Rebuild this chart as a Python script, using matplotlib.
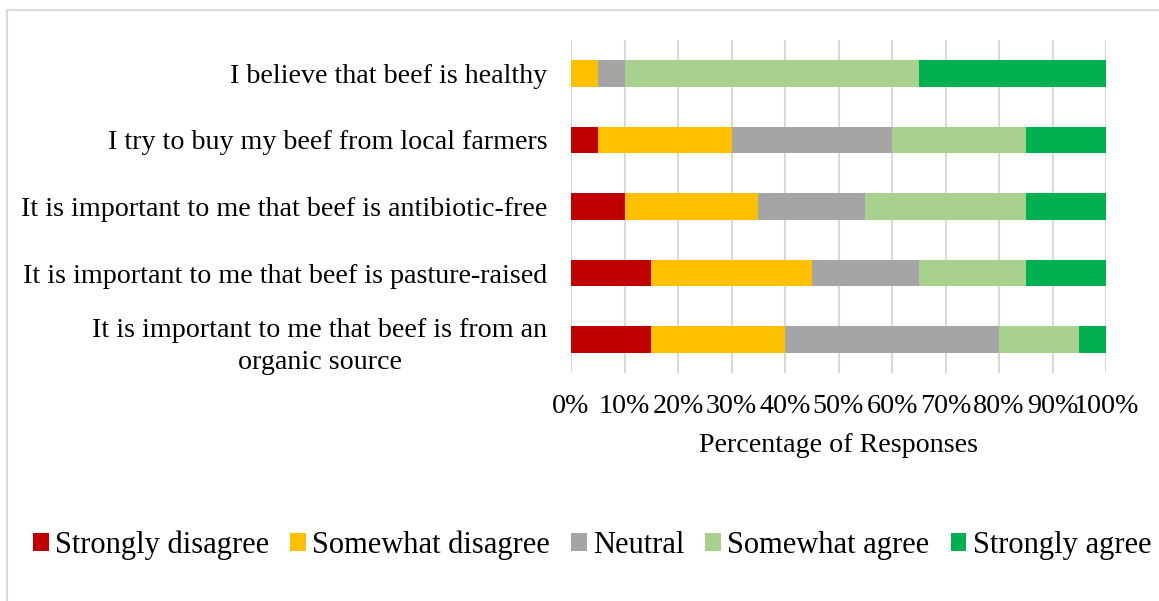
import matplotlib
matplotlib.use("Agg")
import matplotlib.pyplot as plt
from matplotlib.patches import Rectangle
from matplotlib.ticker import FuncFormatter

plt.rcParams['font.family'] = ['Liberation Serif', 'DejaVu Serif']

# Statements (top to bottom as displayed)
statements = [
    "I believe that beef is healthy",
    "I try to buy my beef from local farmers",
    "It is important to me that beef is antibiotic-free",
    "It is important to me that beef is pasture-raised",
    "It is important to me that beef is from an\norganic source",
]

responses = ["Strongly disagree", "Somewhat disagree", "Neutral",
             "Somewhat agree", "Strongly agree"]

strongly_disagree = [0, 5, 10, 15, 15]
somewhat_disagree = [5, 25, 25, 30, 25]
neutral = [5, 30, 20, 20, 40]
somewhat_agree = [55, 25, 30, 20, 15]
strongly_agree = [35, 15, 15, 15, 5]

colors = ["#C00000", "#FFC000", "#A5A5A5", "#A9D18E", "#00B050"]

series = [strongly_disagree, somewhat_disagree, neutral, somewhat_agree, strongly_agree]

FS = 20.2
LEG_FS = 22
W, H = 1159, 601
fig = plt.figure(figsize=(W / 100, H / 100), dpi=100)
ax = fig.add_axes([571 / W, 1 - 373 / H, (1106 - 571) / W, (373 - 40) / H])

ypos = list(range(len(statements)))
left = [0] * len(statements)
for vals, col, name in zip(series, colors, responses):
    ax.barh(ypos, vals, left=left, height=0.4, color=col, label=name, zorder=3)
    left = [a + b for a, b in zip(left, vals)]

ax.set_ylim(len(statements) - 0.5, -0.5)
ax.set_xlim(0, 100)
ax.set_xticks(range(0, 101, 10))
ax.xaxis.set_major_formatter(FuncFormatter(lambda v, p: f"{int(v)}%"))
ax.set_yticks(ypos)
ax.set_yticklabels(statements, multialignment='center', linespacing=1.4)
ax.tick_params(axis='both', length=0, labelsize=FS, colors='black')
ax.tick_params(axis='y', pad=17)
ax.tick_params(axis='x', pad=15)
for lbl in ax.get_xticklabels():
    lbl.set_horizontalalignment('center')

ax.grid(axis='x', color='#D9D9D9', linewidth=1.5, zorder=0)
for s in ax.spines.values():
    s.set_visible(False)

ax.set_xlabel("Percentage of Responses", fontsize=FS, labelpad=10)

handles, labels = ax.get_legend_handles_labels()
fig.legend(handles, labels, loc='center', bbox_to_anchor=(592 / W, 1 - 545 / H),
           ncol=5, frameon=False, fontsize=LEG_FS, handlelength=0.52, handleheight=0.52,
           handletextpad=0.2, columnspacing=0.69, borderaxespad=0, borderpad=0)

# Chart area border
fig.patches.append(Rectangle((7 / W, -0.1), 1.1, 1 - 10 / H + 0.1,
                             transform=fig.transFigure, fill=False,
                             edgecolor='#D9D9D9', linewidth=1.5))

fig.savefig("out.png", dpi=100)
